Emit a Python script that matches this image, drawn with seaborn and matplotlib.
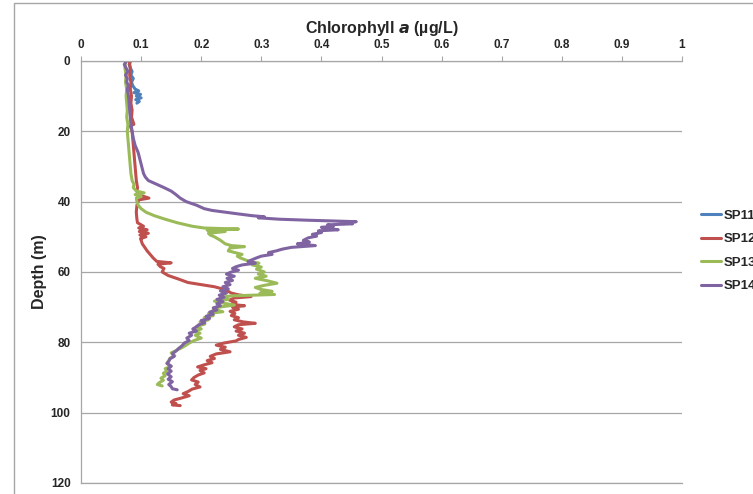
import pandas as pd
import numpy as np
import matplotlib
matplotlib.use('Agg')
import matplotlib.pyplot as plt
import seaborn as sns
from matplotlib.patches import Rectangle

# --- data (depth in m, chlorophyll a in ug/L) ---
sp11_depth = [0, 1, 2, 3, 4, 5, 6, 7, 8, 8.5, 9, 9.5, 10, 10.5, 11, 11.5, 12]
sp11_chl = [0.083, 0.080, 0.082, 0.085, 0.083, 0.087, 0.084, 0.086, 0.090, 0.096,
            0.088, 0.099, 0.092, 0.100, 0.091, 0.097, 0.093]

sp12_depth = [0, 2, 4, 6, 8, 10, 12, 14, 16, 18, 18.5, 20, 22, 24, 26, 28, 30, 32, 34,
              36, 37, 38, 39, 39.5, 41, 43, 45, 46, 47, 47.5, 48, 48.5, 49, 49.5, 50,
              50.5, 51, 52, 53, 54, 55, 56, 57, 57.4, 57.8, 58.5, 59, 60, 61, 62, 63,
              63.6, 64.2, 64.8, 65.5, 66, 66.5, 67, 67.4, 68, 68.6, 69.2, 69.6, 70,
              70.6, 71.2, 71.8, 72.4, 73, 73.6, 74.2, 74.6, 75, 75.6, 76.2, 76.8, 77.4,
              78, 78.6, 79.2, 79.6, 80.2, 80.8, 81.4, 82, 82.7, 83.3, 84, 84.6, 85.2,
              85.8, 86.4, 87, 87.5, 88, 88.7, 89.3, 90, 90.7, 91.3, 92, 92.7, 93.3, 94,
              94.6, 95.2, 95.8, 96.4, 97, 97.4, 97.8, 98]
sp12_chl = [0.080, 0.082, 0.081, 0.083, 0.082, 0.084, 0.083, 0.085, 0.084, 0.088, 0.082,
            0.085, 0.086, 0.087, 0.088, 0.089, 0.090, 0.091, 0.092, 0.094, 0.093, 0.095,
            0.113, 0.096, 0.093, 0.092, 0.093, 0.094, 0.104, 0.096, 0.110, 0.097, 0.112,
            0.098, 0.108, 0.099, 0.100, 0.102, 0.106, 0.110, 0.115, 0.120, 0.126, 0.150,
            0.128, 0.132, 0.138, 0.135, 0.145, 0.162, 0.178, 0.200, 0.222, 0.235, 0.245,
            0.250, 0.262, 0.283, 0.255, 0.247, 0.258, 0.250, 0.272, 0.252, 0.262, 0.248,
            0.256, 0.250, 0.262, 0.255, 0.270, 0.290, 0.262, 0.255, 0.268, 0.258, 0.272,
            0.262, 0.275, 0.262, 0.258, 0.238, 0.225, 0.240, 0.232, 0.248, 0.225, 0.215,
            0.222, 0.210, 0.218, 0.205, 0.194, 0.208, 0.198, 0.205, 0.195, 0.188, 0.184,
            0.195, 0.190, 0.198, 0.185, 0.178, 0.170, 0.180, 0.168, 0.155, 0.150, 0.158,
            0.152, 0.165]

sp13_depth = [0, 2, 4, 6, 8, 10, 12, 14, 16, 18, 20, 22, 24, 26, 28, 30, 32, 34, 35, 36,
              37, 37.5, 38, 38.5, 39, 40, 41, 42, 43, 44, 45, 46, 47, 47.5, 47.8, 48.1,
              48.5, 49, 49.5, 50, 51, 52, 52.5, 52.8, 53.2, 54, 55, 55.5, 56, 57, 57.5,
              58, 58.6, 59.2, 60, 60.6, 61.2, 61.8, 62.5, 63.2, 63.8, 64.4, 65, 65.5, 66,
              66.4, 66.8, 67.2, 67.8, 68.3, 68.9, 69.4, 70, 70.6, 71.3, 71.8, 72.4, 73,
              73.6, 74.2, 74.8, 75.5, 76.2, 76.8, 77.4, 78, 78.8, 79.5, 80.2, 80.8, 81.5,
              82.2, 83, 83.8, 84.5, 85.2, 86, 86.8, 87.5, 88.2, 88.8, 89.5, 90.2, 90.8,
              91.5, 92, 92.4]
sp13_chl = [0.074, 0.073, 0.075, 0.074, 0.076, 0.075, 0.076, 0.077, 0.076, 0.078, 0.077,
            0.078, 0.079, 0.080, 0.081, 0.082, 0.083, 0.085, 0.088, 0.087, 0.092, 0.105,
            0.090, 0.100, 0.092, 0.093, 0.095, 0.100, 0.108, 0.122, 0.140, 0.160, 0.185,
            0.205, 0.262, 0.210, 0.240, 0.212, 0.215, 0.222, 0.232, 0.240, 0.250, 0.272,
            0.248, 0.245, 0.268, 0.260, 0.265, 0.280, 0.296, 0.285, 0.300, 0.292, 0.305,
            0.295, 0.308, 0.290, 0.310, 0.326, 0.305, 0.290, 0.300, 0.318, 0.298, 0.322,
            0.250, 0.232, 0.245, 0.222, 0.238, 0.255, 0.230, 0.220, 0.236, 0.212, 0.220,
            0.205, 0.212, 0.198, 0.206, 0.192, 0.200, 0.188, 0.198, 0.190, 0.200, 0.188,
            0.180, 0.175, 0.168, 0.160, 0.150, 0.156, 0.148, 0.146, 0.143, 0.150, 0.140,
            0.143, 0.137, 0.140, 0.133, 0.137, 0.130, 0.127, 0.135]

sp14_depth = [0, 1, 2, 3, 4, 5, 6, 7, 8, 10, 12, 14, 16, 18, 20, 22, 24, 26, 28, 30, 32,
              33, 34, 35, 36, 37, 38, 39, 40, 41, 42, 42.5, 43, 43.5, 44, 44.3, 44.6, 45,
              45.3, 45.5, 45.7, 46, 46.3, 46.6, 47, 47.3, 47.7, 48, 48.3, 48.8, 49.3,
              49.8, 50.3, 51, 51.5, 52, 52.5, 53, 53.5, 54, 54.5, 55, 55.5, 56, 56.5, 57,
              57.5, 58, 58.5, 59, 59.5, 60, 60.6, 61.2, 61.8, 62.4, 63, 63.6, 64.2, 64.8,
              65.4, 66, 66.6, 67.2, 67.8, 68.4, 69, 69.6, 70.2, 70.8, 71.4, 72, 72.6,
              73.2, 73.8, 74.4, 75, 75.6, 76.2, 76.8, 77.4, 78, 78.8, 79.5, 80.2, 81,
              81.8, 82.5, 83.2, 84, 84.7, 85.4, 86, 86.8, 87.5, 88.2, 89, 89.8, 90.5,
              91.2, 92, 92.6, 93.2, 93.5]
sp14_chl = [0.076, 0.072, 0.075, 0.078, 0.074, 0.077, 0.076, 0.079, 0.077, 0.079, 0.080,
            0.081, 0.082, 0.083, 0.085, 0.087, 0.090, 0.095, 0.098, 0.101, 0.104, 0.107,
            0.112, 0.125, 0.138, 0.150, 0.158, 0.165, 0.175, 0.192, 0.205, 0.218, 0.240,
            0.262, 0.285, 0.305, 0.295, 0.330, 0.380, 0.420, 0.458, 0.440, 0.452, 0.410,
            0.420, 0.400, 0.415, 0.428, 0.395, 0.400, 0.385, 0.392, 0.378, 0.370, 0.380,
            0.360, 0.390, 0.350, 0.335, 0.325, 0.312, 0.318, 0.300, 0.292, 0.285, 0.278,
            0.290, 0.268, 0.258, 0.252, 0.262, 0.250, 0.242, 0.255, 0.243, 0.252, 0.240,
            0.248, 0.236, 0.245, 0.232, 0.242, 0.230, 0.238, 0.226, 0.236, 0.226, 0.232,
            0.220, 0.226, 0.214, 0.220, 0.208, 0.214, 0.200, 0.206, 0.196, 0.192, 0.186,
            0.192, 0.180, 0.184, 0.176, 0.180, 0.172, 0.168, 0.162, 0.158, 0.152, 0.155,
            0.148, 0.146, 0.143, 0.150, 0.145, 0.150, 0.144, 0.150, 0.145, 0.152, 0.146,
            0.150, 0.152, 0.160]

stations = ['SP11', 'SP12', 'SP13', 'SP14']
colors = ['#4F81BD', '#C0504D', '#9BBB59', '#8064A2']
x_ticks = [0, 0.1, 0.2, 0.3, 0.4, 0.5, 0.6, 0.7, 0.8, 0.9, 1]
x_ticklabels = ['0', '0.1', '0.2', '0.3', '0.4', '0.5', '0.6', '0.7', '0.8', '0.9', '1']
y_ticks = [0, 20, 40, 60, 80, 100, 120]

# long table for seaborn
frames = []
for name, d, c in zip(stations,
                      [sp11_depth, sp12_depth, sp13_depth, sp14_depth],
                      [sp11_chl, sp12_chl, sp13_chl, sp14_chl]):
    frames.append(pd.DataFrame({'Depth': d, 'Chl': c, 'Station': name}))
df = pd.concat(frames, ignore_index=True)

sns.set_style('white')
plt.rcParams['font.family'] = ['Liberation Sans', 'DejaVu Sans']

fig = plt.figure(figsize=(7.53, 4.94), dpi=100)
ax = fig.add_axes([0.1076, 0.0223, 0.7981, 0.8543])

sns.lineplot(data=df, x='Chl', y='Depth', hue='Station', hue_order=stations,
             palette=colors, orient='y', sort=False, estimator=None,
             linewidth=2.2, ax=ax, legend=False)

grid_c = '#a6a6a6'
ax.set_xlim(0, 1)
ax.set_ylim(120, 0)
ax.xaxis.tick_top()
ax.xaxis.set_label_position('top')
ax.set_xticks(x_ticks)
ax.set_xticklabels(x_ticklabels, fontweight='bold', fontsize=8.5)
ax.set_yticks(y_ticks)
ax.set_yticklabels([str(v) for v in y_ticks], fontweight='bold', fontsize=8.5)
ax.tick_params(axis='both', direction='out', length=3.5, width=0.8, color=grid_c, pad=4)
ax.tick_params(axis='x', pad=4)
ax.yaxis.grid(True, color=grid_c, linewidth=0.9)
ax.set_axisbelow(True)
for s in ['top', 'left', 'bottom']:
    ax.spines[s].set_color(grid_c)
    ax.spines[s].set_linewidth(0.9)
ax.spines['right'].set_visible(False)

ax.set_xlabel('Chlorophyll $\\bfit{a}$ (µg/L)', fontweight='bold', fontsize=11.5, labelpad=4)
ax.set_ylabel('Depth (m)', fontweight='bold', fontsize=11.5, labelpad=3)

# legend, cut off at the right edge as in the original
handles = [plt.Line2D([], [], color=c, linewidth=2.2) for c in colors]
fig.legend(handles, stations, loc='upper left', bbox_to_anchor=(0.924, 0.586),
           frameon=False, prop={'weight': 'bold', 'size': 9.5}, handlelength=1.5,
           handletextpad=0.2, labelspacing=0.85, borderaxespad=0)

# chart area border
fig.patches.append(Rectangle((0.0186, -0.1), 1.2, 1.094, transform=fig.transFigure,
                             fill=False, edgecolor=grid_c, linewidth=1))

fig.savefig('out.png', dpi=100)
